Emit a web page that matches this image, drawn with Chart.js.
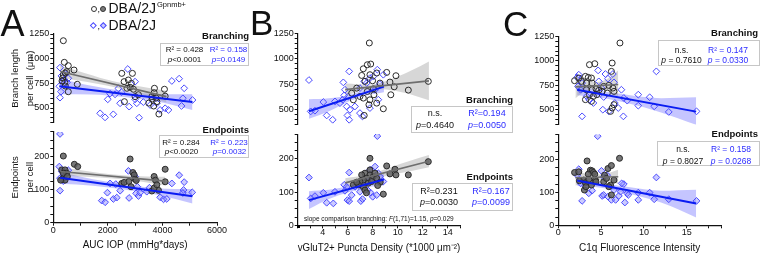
<!DOCTYPE html>
<html>
<head>
<meta charset="utf-8">
<script src="https://cdn.jsdelivr.net/npm/chart.js@4.4.1/dist/chart.umd.min.js"></script>
<style>
  body { margin: 0; background: #fff; position: relative; width: 762px; height: 256px; overflow: hidden;
         font-family: "Liberation Sans", Arial, sans-serif; color: #111; }
  canvas { position: absolute; top: 0; }
  .t { position: absolute; white-space: nowrap; line-height: 1; }
  .c { width: 100px; text-align: center; }
  .bl { color: #2b2bff; }
  .hd { position: absolute; white-space: nowrap; line-height: 1; font-weight: bold; font-size: 9.5px; }
  .box { position: absolute; border: 1px solid #c6c6c6; box-sizing: border-box; }
  .mk { position: absolute; box-sizing: border-box; }
  .letter { position: absolute; line-height: 1; font-size: 36px; }
</style>
</head>
<body>
<canvas id="chartA" width="250" height="256" style="left:0"></canvas>
<canvas id="chartB" width="250" height="256" style="left:250px"></canvas>
<canvas id="chartC" width="262" height="256" style="left:500px"></canvas>

<!-- panel letters -->
<div class="letter" style="left:0.5px;top:6px">A</div>
<div class="letter" style="left:250px;top:5.4px;font-size:35px">B</div>
<div class="letter" style="left:503px;top:6.4px;font-size:35px">C</div>

<!-- legend -->
<div class="mk" style="left:90.7px;top:5.8px;width:6px;height:6px;border:1px solid #333;border-radius:50%"></div>
<div class="t" style="left:97.4px;top:5px;font-size:9px">,</div>
<div class="mk" style="left:100px;top:5.8px;width:6px;height:6px;border:1px solid #333;border-radius:50%;background:#7a7a7a"></div>
<div class="t" style="left:108.5px;top:1.4px;font-size:14px">DBA/2J</div>
<div class="t" style="left:157px;top:1.3px;font-size:7.5px">Gpnmb+</div>
<div class="mk" style="left:91.4px;top:22.7px;width:4.6px;height:4.6px;border:1px solid #4a4aff;transform:rotate(45deg)"></div>
<div class="t" style="left:97.4px;top:22px;font-size:9px">,</div>
<div class="mk" style="left:100.7px;top:22.7px;width:4.6px;height:4.6px;border:1px solid #4a4aff;background:rgba(140,140,255,0.45);transform:rotate(45deg)"></div>
<div class="t" style="left:108.5px;top:18.2px;font-size:14px">DBA/2J</div>

<!-- panel A stats -->
<div class="hd" style="right:513px;top:30.8px">Branching</div>
<div class="box" style="left:159.5px;top:43px;width:89.5px;height:23px"></div>
<div class="t c" style="left:134.5px;top:46.3px;font-size:8px">R² = 0.428</div>
<div class="t c bl" style="left:178.5px;top:46.3px;font-size:8px">R² = 0.158</div>
<div class="t c" style="left:134.5px;top:56px;font-size:8px"><i>p</i>&lt;0.0001</div>
<div class="t c bl" style="left:178.5px;top:56px;font-size:8px"><i>p</i>=0.0149</div>

<div class="hd" style="right:513px;top:125.3px">Endpoints</div>
<div class="box" style="left:159px;top:135px;width:90px;height:22.5px"></div>
<div class="t c" style="left:131px;top:138.7px;font-size:8px">R² = 0.284</div>
<div class="t c bl" style="left:179px;top:138.7px;font-size:8px">R² = 0.223</div>
<div class="t c" style="left:131.5px;top:147.7px;font-size:8px"><i>p</i>&lt;0.0020</div>
<div class="t c bl" style="left:179.5px;top:147.7px;font-size:8px"><i>p</i>=0.0032</div>

<!-- panel B stats -->
<div class="hd" style="right:249px;top:95.3px">Branching</div>
<div class="box" style="left:411px;top:106px;width:102px;height:27px"></div>
<div class="t c" style="left:385px;top:108.8px;font-size:9px">n.s.</div>
<div class="t c bl" style="left:437px;top:108.8px;font-size:9px">R²=0.194</div>
<div class="t c" style="left:385px;top:120.5px;font-size:9px"><i>p</i>=0.4640</div>
<div class="t c bl" style="left:437px;top:120.5px;font-size:9px"><i>p</i>=0.0050</div>

<div class="hd" style="right:249px;top:172.3px">Endpoints</div>
<div class="box" style="left:412px;top:182.7px;width:101px;height:28px"></div>
<div class="t c" style="left:389px;top:187.2px;font-size:9px">R²=0.231</div>
<div class="t c bl" style="left:441px;top:187.2px;font-size:9px">R²=0.167</div>
<div class="t c" style="left:389px;top:197.5px;font-size:9px"><i>p</i>=0.0030</div>
<div class="t c bl" style="left:441px;top:197.5px;font-size:9px"><i>p</i>=0.0099</div>

<div class="t" style="left:304px;top:215.8px;font-size:6.5px">slope comparison branching: <i>F</i>(1,71)=1.15, <i>p</i>=0.029</div>
<div class="mk" style="left:297px;top:225.3px;width:3px;height:3px;background:#000"></div>

<!-- panel C stats -->
<div class="hd" style="right:4px;top:28.3px">Branching</div>
<div class="box" style="left:657.7px;top:40px;width:102.3px;height:25.7px"></div>
<div class="t c" style="left:631.5px;top:45.5px;font-size:8.5px">n.s.</div>
<div class="t c bl" style="left:678px;top:45.5px;font-size:8.5px">R² = 0.147</div>
<div class="t c" style="left:631.5px;top:56px;font-size:8.5px"><i>p</i> = 0.7610</div>
<div class="t c bl" style="left:678px;top:56px;font-size:8.5px"><i>p</i> = 0.0330</div>

<div class="hd" style="right:4px;top:129.3px">Endpoints</div>
<div class="box" style="left:656.7px;top:140.7px;width:103.3px;height:25.3px"></div>
<div class="t c" style="left:633px;top:144.8px;font-size:8.5px">n.s.</div>
<div class="t c bl" style="left:681px;top:144.8px;font-size:8.5px">R² = 0.158</div>
<div class="t c" style="left:633px;top:156.5px;font-size:8.5px"><i>p</i> = 0.8027</div>
<div class="t c bl" style="left:681px;top:156.5px;font-size:8.5px"><i>p</i> = 0.0268</div>

<script>
// ---- panel A: AUC IOP (mmHg*days) ----
const aucBranchGp = [[368,1182],[404,963],[550,929],[490,868],[440,855],[367,835],[345,804],[320,774],[440,723],[550,665],[760,885],[880,740],[420,760],
  [2510,851],[2595,767],[2750,784],[2900,851],[2860,750],[2815,710],[2937,690],[2606,564],[3120,635],[2998,615],[2700,700],
  [3707,700],[4074,690],[3696,655],[3611,615],[3770,601],[3795,564],[4100,620],[3680,520],[3870,439],[3500,550],[3620,590]];
const aucBranchD2 = [[246,909],[246,605],[300,825],[350,770],[455,845],[550,801],[220,720],[280,665],[400,790],[500,760],
  [1717,446],[1897,405],[2200,436],[1996,588],[2264,639],[2386,698],[2730,895],[2998,767],[2448,548],[2780,514],[3000,588],[3145,402],[3060,548],[2081,645],[2500,659],
  [4345,774],[4613,797],[4797,700],[4749,598],[5101,581],[4700,521],[4100,497],[4220,480],[3916,480],[3795,548],[3550,530],[3300,560]];
const aucEndGp = [[367,202],[771,177],[895,170],[310,160],[430,160],[490,150],[367,150],[330,132],[430,129],[270,129],[515,140],
  [2815,193],[2914,152],[2965,145],[3000,132],[3040,128],[2509,119],[2595,122],[2770,125],[2850,109],
  [4100,162],[3696,140],[3745,129],[4100,124],[3611,96],[3855,98],[3696,105],[3795,115]];
const aucEndD2 = [[246,269],[246,97],[220,170],[310,155],[430,150],[490,140],[246,135],[367,126],[550,159],
  [2754,157],[2998,140],[2081,119],[2290,117],[1983,91],[2450,97],[1776,67],[1900,62],[2200,72],[2326,76],[2778,75],
  [3035,89],[3121,81],[3182,91],[3524,106],[3916,77],[4040,71],[4160,72],[4345,119],[4614,144],[4797,123],[4773,99],[5092,92],[4749,90],[3426,94],[3080,109]];
const aucBranchGpFit = [[250,870],[4150,615]];
const aucBranchD2Fit = [[220,720],[5100,560]];
const aucEndGpFit = [[250,155],[4100,126]];
const aucEndD2Fit = [[250,136],[5100,80]];
// bands: [x, lower, upper]
const aucBranchGpBand = [[250,810,930],[1200,766,850],[2200,714,770],[3200,637,717],[4150,555,675]];
const aucBranchD2Band = [[220,640,800],[1400,637,725],[2600,612,672],[3800,566,640],[5100,480,640]];
const aucEndGpBand = [[250,142,168],[1200,139,157],[2200,134,146],[3200,125,141],[4100,113,139]];
const aucEndD2Band = [[250,118,154],[1450,112,132],[2650,100,116],[3850,84,104],[5100,58,102]];

// ---- panel B: vGluT2+ puncta density ----
const vglutBranchGp = [[7.73,1158],[7.57,942],[7.84,949],[7.25,902],[7.78,843],[7.12,836],[8.32,860],[9.12,866],[9.86,833],[7.38,777],[7.99,783],[8.58,760],[9.38,770],[9.72,723],[10.85,690],[12.45,777],[9.45,644],[6.72,710],[6.32,660],[6.98,627],[7.57,677],[8.1,644],[7.25,611],[7.78,594],[8.32,561],[6.45,594],[7.7,545],[8.85,505],[7.32,439],[8.05,703]];
const vglutBranchD2 = [[2.9,790],[3.04,479],[3.38,486],[4.05,572],[4.32,439],[4.8,396],[4.98,578],[5.65,767],[6.12,876],[5.78,694],[5.72,638],[5.6,595],[6.05,627],[5.92,528],[5.98,439],[6.12,396],[6.18,495],[6.98,710],[7.32,777],[7.52,760],[7.78,810],[8.37,893],[8.05,826],[8.85,843],[8.19,694],[8.45,595],[7.78,512],[6.98,462],[7.18,429],[8.58,750],[6.58,528],[5.38,561]];
const vglutEndGp = [[7.78,202],[9.12,179],[9.78,169],[9.38,155],[9.86,152],[10.85,152],[12.45,192],[8.85,94],[7.38,157],[7.12,152],[7.78,167],[7.78,152],[8.05,147],[7.52,142],[7.25,137],[6.98,132],[7.65,127],[7.92,132],[8.32,142],[7.25,116],[7.38,106],[6.85,122],[8.19,157],[6.45,122],[6.72,130],[8.6,130],[8.4,120],[7.5,98]];
const vglutEndD2 = [[2.9,144],[3.04,81],[3.38,88],[4.05,98],[4.32,68],[4.85,66],[4.98,101],[6.12,159],[5.72,122],[5.92,116],[5.78,104],[5.98,76],[6.12,73],[6.32,91],[6.98,101],[7.05,73],[7.18,79],[7.78,167],[7.92,142],[8.37,269],[8.45,157],[8.58,147],[8.85,132],[7.84,98],[8.0,86],[8.32,91],[7.6,106],[6.58,116],[7.45,132],[8.19,177]];
const vglutBranchGpFit = [[5.8,695],[12.5,782]];
const vglutBranchD2Fit = [[2.9,480],[8.9,725]];
const vglutEndGpFit = [[5.8,128],[12.5,193]];
const vglutEndD2Fit = [[2.9,76],[8.9,138]];
const vglutBranchGpBand = [[5.8,635,755],[7.8,698,745],[9.5,690,800],[11,650,880],[12.5,590,975]];
const vglutBranchD2Band = [[2.9,405,600],[4.5,480,610],[6.2,585,645],[7.6,640,705],[8.9,670,780]];
const vglutEndGpBand = [[5.8,114,142],[7.8,139,155],[9.5,152,176],[11,163,195],[12.5,175,212]];
const vglutEndD2Band = [[2.9,49,103],[4.5,79,107],[6.2,101,119],[7.6,115,135],[8.9,120,156]];

// ---- panel C: C1q fluorescence intensity ----
const c1qBranchGp = [[7.2,1182],[3.64,961],[4.26,971],[6.29,978],[1.9,798],[2.39,825],[3.17,842],[3.5,832],[3.87,825],[2.7,791],[3.28,774],[3.95,774],[4.4,716],[5.3,740],[5.9,750],[6.2,893],[6.37,723],[5.73,672],[6.5,689],[5.12,689],[3.28,706],[3.64,656],[3.17,605],[3.87,588],[4.1,639],[4.5,656],[6.29,520],[6.5,554],[6.1,486],[3.95,706],[4.73,700]];
const c1qBranchD2 = [[2.39,859],[2.2,832],[2.78,774],[2.3,740],[2.6,706],[4.65,903],[5.5,866],[5.8,818],[6.5,781],[6.37,866],[3.32,639],[3.6,605],[4.1,571],[5.04,723],[5.3,632],[7.37,706],[7.65,622],[8.05,595],[7.6,435],[7.0,520],[6.6,571],[5.2,503],[5.9,486],[2.78,435],[9.34,656],[10.67,629],[11.45,893],[11.2,537],[9.34,544],[12.9,480],[16.14,486],[4.73,791]];
const c1qEndGp = [[1.9,160],[2.39,162],[3.36,195],[3.75,167],[3.95,165],[4.1,160],[4.26,155],[3.5,155],[2.97,137],[2.46,135],[3.17,129],[3.56,139],[4.33,137],[4.4,132],[3.87,122],[3.05,107],[3.23,117],[5.3,132],[5.4,152],[5.8,172],[6.2,181],[7.15,203],[5.63,142],[6.1,122],[6.2,92],[5.9,117],[6.5,137]];
const c1qEndD2 = [[2.39,170],[2.2,152],[2.6,127],[2.78,74],[3.56,97],[3.95,105],[4.6,270],[5.04,165],[5.3,147],[5.7,152],[5.12,89],[5.3,92],[5.8,87],[6.2,77],[6.69,77],[7.07,89],[7.27,102],[7.65,125],[7.77,69],[8.05,97],[8.17,92],[7.4,127],[9.34,99],[10.67,99],[11.2,79],[11.45,145],[12.9,79],[16.14,74],[9.34,77],[6.5,107],[3.17,117]];
const c1qBranchGpFit = [[2.0,735],[7.0,760]];
const c1qBranchD2Fit = [[2.2,705],[16.1,483]];
const c1qEndGpFit = [[2.0,144],[7.0,147]];
const c1qEndD2Fit = [[2.2,136],[16.1,66]];
const c1qBranchGpBand = [[2,620,865],[3.2,690,795],[4.5,710,785],[5.8,690,820],[7,635,905]];
const c1qBranchD2Band = [[2.2,650,760],[5,625,695],[8,570,655],[12,475,620],[16.1,350,630]];
const c1qEndGpBand = [[2,120,168],[3.2,134,156],[4.5,137,153],[5.8,134,158],[7,126,168]];
const c1qEndD2Band = [[2.2,120,152],[5,114,130],[8,97,117],[12,69,105],[16.1,24,108]];

// tick labels
const branchTickLabels = [500, 750, 1000, 1250];
const endTickLabels = [0, 100, 200];
const aucTickLabels = [0, 2000, 4000, 6000];
const vglutTickLabels = [4, 6, 8, 10, 12, 14];
const c1qTickLabels = [0, 5, 10, 15];

Chart.defaults.font.family = '"Liberation Sans", Arial, sans-serif';
Chart.defaults.color = '#111';

const GP_EDGE = '#2a2a2a', D2_EDGE = '#4a4aff';
const GP_LINE = '#6e6e6e', D2_LINE = '#0a1cf2';
const GP_BAND = 'rgba(150,150,150,0.38)', D2_BAND = 'rgba(95,95,255,0.36)';

const xy = pts => pts.map(p => ({x: p[0], y: p[1]}));

function scatterSet(pts, yAxisID, gp, filled) {
  return {
    type: 'scatter', data: xy(pts), yAxisID, order: 1,
    pointStyle: gp ? 'circle' : 'rectRot',
    pointRadius: gp ? 3 : 3.4,
    borderWidth: 1,
    borderColor: gp ? GP_EDGE : D2_EDGE,
    backgroundColor: filled ? (gp ? 'rgba(95,95,95,0.85)' : 'rgba(140,140,255,0.45)') : 'rgba(255,255,255,0)'
  };
}

function fitSet(pts, yAxisID, gp) {
  return {
    type: 'line', data: xy(pts), yAxisID, order: 0, fill: false,
    borderColor: gp ? GP_LINE : D2_LINE, borderWidth: gp ? 1.6 : 2, pointRadius: 0
  };
}

function bandSets(band, yAxisID, gp) {
  const common = {type: 'line', yAxisID, order: 2, borderWidth: 0, borderColor: 'transparent',
                  pointRadius: 0, cubicInterpolationMode: 'monotone'};
  return [
    {...common, data: band.map(b => ({x: b[0], y: b[2]})), fill: '+1', backgroundColor: gp ? GP_BAND : D2_BAND},
    {...common, data: band.map(b => ({x: b[0], y: b[1]})), fill: false}
  ];
}

function tickGrid() {
  return {display: true, drawOnChartArea: false, drawTicks: true, tickLength: 3, tickColor: '#111', tickWidth: 1};
}

function yAxis(o) {
  return {
    type: 'linear', position: 'left', stack: 'split', stackWeight: o.weight,
    min: o.min, max: o.max,
    border: {color: '#111', width: 1.2},
    grid: tickGrid(),
    ticks: {stepSize: o.step, autoSkip: false, padding: 1, color: '#111', font: {size: 9, lineHeight: 1},
            callback: v => o.labels.includes(v) ? String(v) : ''},
    title: {display: !!o.title, text: o.title || '', color: '#111', padding: 0,
            font: {size: 9.5, lineHeight: 1.5}},
    afterFit: s => { s.width = o.width; }
  };
}

function makePanel(id, p) {
  const datasets = [
    ...bandSets(p.branchGpBand, 'yTop', true), ...bandSets(p.branchD2Band, 'yTop', false),
    ...bandSets(p.endGpBand, 'yBot', true), ...bandSets(p.endD2Band, 'yBot', false),
    scatterSet(p.branchGp, 'yTop', true, false), scatterSet(p.branchD2, 'yTop', false, false),
    scatterSet(p.endGp, 'yBot', true, true), scatterSet(p.endD2, 'yBot', false, true),
    fitSet(p.branchGpFit, 'yTop', true), fitSet(p.branchD2Fit, 'yTop', false),
    fitSet(p.endGpFit, 'yBot', true), fitSet(p.endD2Fit, 'yBot', false)
  ];
  return new Chart(document.getElementById(id), {
    type: 'scatter',
    data: {datasets},
    options: {
      animation: false,
      responsive: false,
      events: [],
      layout: {padding: p.padding},
      plugins: {legend: {display: false}, tooltip: {enabled: false}},
      scales: {
        x: {
          type: 'linear', position: 'bottom', min: p.x.min, max: p.x.max,
          border: {color: '#111', width: 1.2},
          grid: tickGrid(),
          ticks: {stepSize: p.x.step, autoSkip: false, maxRotation: 0, padding: 0, color: '#111',
                  font: {size: 9, lineHeight: 1},
                  callback: v => p.x.labels.includes(v) ? String(v) : ''},
          title: {display: true, text: p.x.title, color: '#111', font: {size: 10, lineHeight: 1.2},
                  padding: {top: 0, bottom: p.x.titlePad}},
          afterFit: s => { s.height = p.x.height; }
        },
        yBot: yAxis({weight: p.w[2], min: 0, max: 275, step: 25, labels: endTickLabels,
                     width: p.yWidth, title: p.endTitle}),
        yGap: {type: 'linear', position: 'left', stack: 'split', stackWeight: p.w[1],
               border: {display: false}, grid: {display: false}, ticks: {display: false},
               afterFit: s => { s.width = 0; }},
        yTop: yAxis({weight: p.w[0], min: 350, max: 1250, step: 50, labels: branchTickLabels,
                     width: p.yWidth, title: p.branchTitle})
      }
    }
  });
}

makePanel('chartA', {
  branchGp: aucBranchGp, branchD2: aucBranchD2, endGp: aucEndGp, endD2: aucEndD2,
  branchGpFit: aucBranchGpFit, branchD2Fit: aucBranchD2Fit, endGpFit: aucEndGpFit, endD2Fit: aucEndD2Fit,
  branchGpBand: aucBranchGpBand, branchD2Band: aucBranchD2Band, endGpBand: aucEndGpBand, endD2Band: aucEndD2Band,
  padding: {left: 8.7, right: 33, top: 34, bottom: 0},
  yWidth: 44.6, w: [88.8, 9.15, 90.75],
  branchTitle: ['Branch length', 'per cell  (μm)'], endTitle: ['Endpoints', 'per cell'],
  x: {min: 0, max: 6000, step: 1000, labels: aucTickLabels, title: 'AUC IOP (mmHg*days)', height: 33.3, titlePad: 5}
});

makePanel('chartB', {
  branchGp: vglutBranchGp, branchD2: vglutBranchD2, endGp: vglutEndGp, endD2: vglutEndD2,
  branchGpFit: vglutBranchGpFit, branchD2Fit: vglutBranchD2Fit, endGpFit: vglutEndGpFit, endD2Fit: vglutEndD2Fit,
  branchGpBand: vglutBranchGpBand, branchD2Band: vglutBranchD2Band, endGpBand: vglutEndGpBand, endD2Band: vglutEndD2Band,
  padding: {left: 17.7, right: 39.8, top: 33.7, bottom: 0},
  yWidth: 30, w: [90.7, 9.7, 91.2],
  x: {min: 2, max: 15, step: 1, labels: vglutTickLabels, title: 'vGluT2+ Puncta Density (*1000 μm⁻²)', height: 30.7, titlePad: 1.5}
});

makePanel('chartC', {
  branchGp: c1qBranchGp, branchD2: c1qBranchD2, endGp: c1qEndGp, endD2: c1qEndD2,
  branchGpFit: c1qBranchGpFit, branchD2Fit: c1qBranchD2Fit, endGpFit: c1qEndGpFit, endD2Fit: c1qEndD2Fit,
  branchGpBand: c1qBranchGpBand, branchD2Band: c1qBranchD2Band, endGpBand: c1qEndGpBand, endD2Band: c1qEndD2Band,
  padding: {left: 28.3, right: 41, top: 36.3, bottom: 0},
  yWidth: 30, w: [88.4, 9.85, 90.75],
  x: {min: 0, max: 19, step: 2.5, labels: c1qTickLabels, title: 'C1q Fluorescence Intensity', height: 30.7, titlePad: 2}
});
</script>
</body>
</html>
